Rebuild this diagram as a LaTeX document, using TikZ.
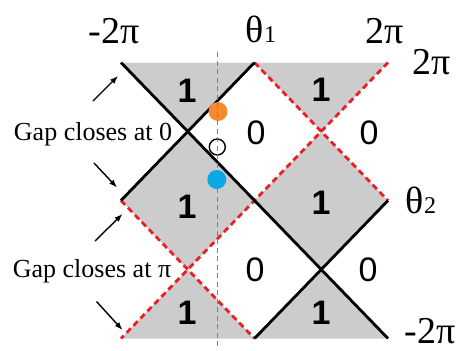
\documentclass[tikz,border=0pt]{standalone}
\usepackage{fontspec}
\setmainfont{Liberation Serif}
\newfontfamily\numfont{Liberation Sans}
\usetikzlibrary{arrows.meta}
\definecolor{regiongray}{RGB}{204,204,204}
\definecolor{gapred}{RGB}{235,30,40}
\definecolor{dotorange}{RGB}{245,138,48}
\definecolor{dotblue}{RGB}{12,168,230}
\tikzset{
  region/.style={fill=regiongray},
  solidline/.style={black,line width=2.8pt},
  redline/.style={gapred,line width=2.8pt,dash pattern=on 6pt off 4pt},
  axislabel/.style={inner sep=0pt,font=\fontsize{38}{40}\selectfont},
  gaplabel/.style={inner sep=0pt,font=\fontsize{26}{28}\selectfont},
  onelabel/.style={inner sep=0pt,font=\numfont\bfseries\fontsize{34}{36}\selectfont},
  zerolabel/.style={inner sep=0pt,font=\numfont\fontsize{34}{36}\selectfont},
  pointer/.style={line width=1.4pt,-{Latex[length=8pt,width=6pt]}},
  cutline/.style={gray,line width=0.9pt,dash pattern=on 5pt off 3.5pt},
  dot/.style={circle,inner sep=0pt,minimum size=19pt}
}
\begin{document}
\begin{tikzpicture}[x=1pt,y=-1pt]
\useasboundingbox (0,0) rectangle (459,351);
% grid points
\coordinate (TL) at (121,62.5);
\coordinate (TM) at (254.5,62.5);
\coordinate (TR) at (388,62.5);
\coordinate (CL) at (121,200.5);
\coordinate (CM) at (254.5,200.5);
\coordinate (CR) at (388,200.5);
\coordinate (BL) at (121,338.5);
\coordinate (BM) at (254.5,338.5);
\coordinate (BR) at (388,338.5);
\coordinate (Q1) at (187.75,131.5);
\coordinate (Q2) at (321.25,131.5);
\coordinate (Q3) at (187.75,269.5);
\coordinate (Q4) at (321.25,269.5);
% grey regions
\fill[region] (TL) -- (TM) -- (Q1) -- cycle;
\fill[region] (TM) -- (TR) -- (Q2) -- cycle;
\fill[region] (Q1) -- (CM) -- (Q3) -- (CL) -- cycle;
\fill[region] (Q2) -- (CR) -- (Q4) -- (CM) -- cycle;
\fill[region] (BL) -- (BM) -- (Q3) -- cycle;
\fill[region] (BM) -- (BR) -- (Q4) -- cycle;
% dashed red lines
\draw[redline] (TR) -- (BL);
\draw[redline] (TM) -- (CR);
\draw[redline] (CL) -- (BM);
% black lines
\draw[solidline] (TL) -- (BR);
\draw[solidline] (TM) -- (CL);
\draw[solidline] (CR) -- (BM);
% dots
\node[dot,fill=dotorange] (orange) at (218,111.5) {};
\node[dot,draw=black,line width=1.4pt,minimum size=16pt] (open) at (217.3,147) {};
\node[dot,fill=dotblue] (blue) at (216.8,179.5) {};
% vertical cut
\coordinate (cuttop) at (217,52);
\coordinate (cutbot) at (217,348);
\draw[cutline] (cuttop) -- (cutbot);
% region labels
\node[onelabel] (r1) at (187,91) {1};
\node[onelabel] (r2) at (321,90) {1};
\node[zerolabel] (r3) at (256,133) {0};
\node[zerolabel] (r4) at (369,133) {0};
\node[onelabel] (r5) at (187,207) {1};
\node[onelabel] (r6) at (321,203) {1};
\node[zerolabel] (r7) at (255,270) {0};
\node[zerolabel] (r8) at (368,270) {0};
\node[onelabel] (r9) at (187,313) {1};
\node[onelabel] (r10) at (321,313) {1};
% axis labels
\node[axislabel,anchor=base] (xl) at (114,43) {-2π};
\node[axislabel,anchor=base] (xm) at (261,42) {θ{\fontsize{24}{26}\selectfont 1}};
\node[axislabel,anchor=base] (xr) at (385,43) {2π};
\node[axislabel,anchor=base] (yt) at (432,74) {2π};
\node[axislabel,anchor=base] (ym) at (421,213) {θ{\fontsize{24}{26}\selectfont 2}};
\node[axislabel,anchor=base] (yb) at (430,343) {-2π};
% gap labels
\node[gaplabel,anchor=base] (g0) at (93,140) {Gap closes at 0};
\node[gaplabel,anchor=base] (gpi) at (92,277) {Gap closes at π};
% pointers
\coordinate (a1s) at (93,101);
\coordinate (a1e) at (118,76);
\coordinate (a2s) at (94,163);
\coordinate (a2e) at (117,187.5);
\coordinate (a3s) at (95,241);
\coordinate (a3e) at (122.5,214);
\coordinate (a4s) at (96.5,301.5);
\coordinate (a4e) at (122.5,330);
\draw[pointer] (a1s) -- (a1e);
\draw[pointer] (a2s) -- (a2e);
\draw[pointer] (a3s) -- (a3e);
\draw[pointer] (a4s) -- (a4e);
\end{tikzpicture}
\end{document}
